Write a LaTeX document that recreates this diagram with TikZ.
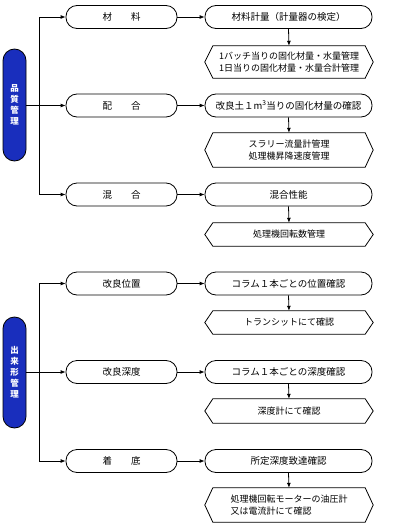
\documentclass[tikz,border=0pt]{standalone}
\usepackage{fontspec}
\setmainfont{Noto Sans CJK JP}
\usetikzlibrary{arrows.meta,calc}
\definecolor{qblue}{rgb}{0.10,0.18,0.74}
\tikzset{
  line/.style={draw=black,line width=0.8pt},
  arr/.style={line,-{Latex[length=5pt,width=4pt]}},
  qbox/.style={draw=black,line width=0.8pt,fill=qblue,rounded corners=11.5pt,minimum width=23pt,text=white,inner sep=0pt,font=\fontsize{8.5}{11}\selectfont\bfseries,align=center},
  lbox/.style={draw=black,line width=0.8pt,rounded corners=11pt,minimum width=111pt,minimum height=23pt,inner sep=0pt,font=\fontsize{9.5}{11}\selectfont},
  rbox/.style={draw=black,line width=0.8pt,rounded corners=11pt,minimum width=167pt,minimum height=23pt,inner sep=0pt,font=\fontsize{9.5}{11}\selectfont},
  hbox/.style={minimum width=168pt,inner sep=0pt,font=\fontsize{9}{12}\selectfont},
}
\newcommand\hexnode[5]{%
  \node[hbox,minimum height=#3,align=#4] (#1) at (#2) {#5};
  \draw[line] ($(#1.north west)+(8pt,0)$) -- ($(#1.north east)+(-8pt,0)$) -- (#1.east)
    -- ($(#1.south east)+(-8pt,0)$) -- ($(#1.south west)+(8pt,0)$) -- (#1.west) -- cycle;}
\begin{document}
\begin{tikzpicture}[x=1pt,y=-1pt]
\useasboundingbox (0,0) rectangle (400,530);
\coordinate (tx) at (39,0);
% quality block
\node[qbox,minimum height=112pt] (q1) at (14.5,105) {品\\質\\管\\理};
\node[lbox] (a1) at (121.5,17) {材　　料};
\node[lbox] (a2) at (121.5,105.5) {配　　合};
\node[lbox] (a3) at (121.5,194.5) {混　　合};
\node[rbox] (r1) at (288.5,17) {材料計量（計量器の検定）};
\node[rbox] (r2) at (288.5,105.5) {改良土１m\textsuperscript{3}当りの固化材量の確認};
\node[rbox] (r3) at (288.5,194.5) {混合性能};
\hexnode{h1}{289,62}{32pt}{center}{1バッチ当りの固化材量・水量管理\\1日当りの固化材量・水量合計管理}
\hexnode{h2}{289,150}{34pt}{center}{スラリー流量計管理\\処理機昇降速度管理}
\hexnode{h3}{289,234.5}{23pt}{center}{処理機回転数管理}
\draw[arr] (tx |- a3.west) -- (tx |- a1.west) -- (a1.west);
\draw[arr] (tx |- a3.west) -- (a3.west);
\draw[arr] (q1.east |- a2.west) -- (a2.west);
\foreach \i in {1,2,3}{
  \draw[arr] (a\i.east) -- (r\i.west);
  \draw[arr] (r\i.south) -- (h\i.north);
}
% as-built block
\node[qbox,minimum height=111pt] (q2) at (14.5,372.5) {出\\来\\形\\管\\理};
\node[lbox] (a4) at (121.5,283.5) {改良位置};
\node[lbox] (a5) at (121.5,372) {改良深度};
\node[lbox] (a6) at (121.5,461) {着　　底};
\node[rbox] (r4) at (288.5,283.5) {コラム１本ごとの位置確認};
\node[rbox] (r5) at (288.5,372) {コラム１本ごとの深度確認};
\node[rbox] (r6) at (288.5,461) {所定深度致達確認};
\hexnode{h4}{289,322.5}{23pt}{center}{トランシットにて確認}
\hexnode{h5}{289,411}{24pt}{center}{深度計にて確認}
\hexnode{h6}{289,505}{34pt}{left}{処理機回転モーターの油圧計\\ 又は電流計にて確認}
\draw[arr] (tx |- a6.west) -- (tx |- a4.west) -- (a4.west);
\draw[arr] (tx |- a6.west) -- (a6.west);
\draw[arr] (q2.east |- a5.west) -- (a5.west);
\foreach \i in {4,5,6}{
  \draw[arr] (a\i.east) -- (r\i.west);
  \draw[arr] (r\i.south) -- (h\i.north);
}
\end{tikzpicture}
\end{document}
